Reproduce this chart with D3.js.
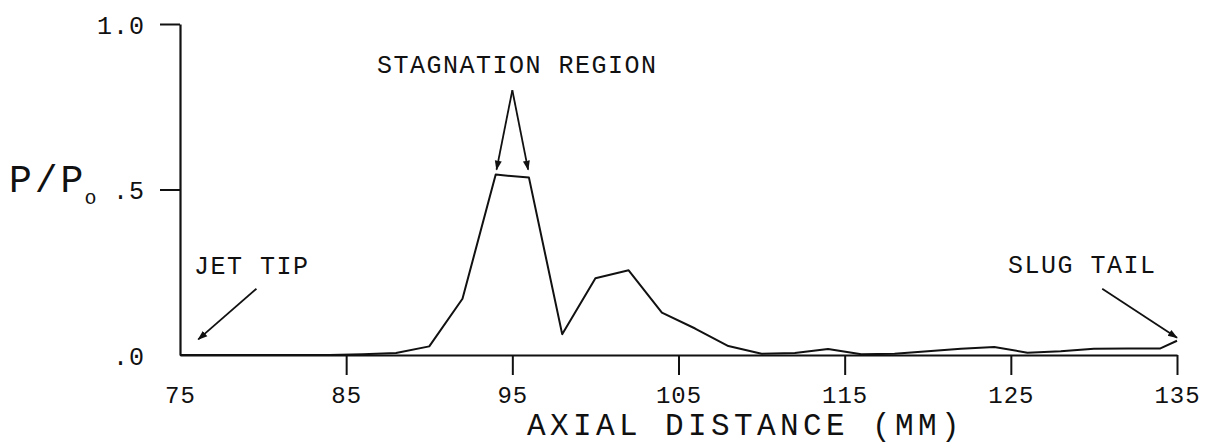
<!DOCTYPE html>
<html>
<head>
<meta charset="utf-8">
<script src="https://cdn.jsdelivr.net/npm/d3@7"></script>
<style>
  html, body { margin: 0; padding: 0; background: #fff; }
  svg { display: block; }
  text { font-family: "Liberation Mono", "DejaVu Sans Mono", monospace; fill: #111; }
</style>
</head>
<body>
<svg id="chart" width="1214" height="445"></svg>
<script>
// Axial distance along the jet (mm)
const axialMM = [75, 78, 80, 82, 84, 86, 88, 90, 92, 94, 96, 98, 100, 102, 104, 106, 108, 110,
                 112, 114, 116, 118, 120, 122, 124, 126, 128, 130, 132, 134, 135];
// Normalised stagnation pressure P/Po at each station
const pressureRatio = [0, 0, 0, 0, 0, 0.002, 0.006, 0.026, 0.17, 0.545, 0.536, 0.063, 0.232, 0.256,
                       0.128, 0.08, 0.027, 0.004, 0.006, 0.018, 0.002, 0.004, 0.011, 0.019, 0.024,
                       0.007, 0.011, 0.019, 0.02, 0.02, 0.043];

const xTickValues = [75, 85, 95, 105, 115, 125, 135];
const xTickLabels = ["75", "85", "95", "105", "115", "125", "135"];
const yTickValues = [0, 0.5, 1.0];
const yTickLabels = [".0", ".5", "1.0"];

// Annotation arrows in data units: [fromX, fromY, toX, toY]
const stagnationArrows = [[95, 0.80, 94.05, 0.56], [95, 0.80, 95.95, 0.56]];
const jetTipArrow = [79.6, 0.2, 76.1, 0.047];
const slugTailArrow = [130.5, 0.2, 135.0, 0.052];

const svg = d3.select("#chart");
const x = d3.scaleLinear().domain([75, 135]).range([180, 1177]);
const y = d3.scaleLinear().domain([0, 1]).range([355, 24]);

svg.append("defs").append("marker")
  .attr("id", "head")
  .attr("viewBox", "0 0 10 10")
  .attr("refX", 9).attr("refY", 5)
  .attr("markerWidth", 10).attr("markerHeight", 10)
  .attr("markerUnits", "userSpaceOnUse")
  .attr("orient", "auto")
  .append("path").attr("d", "M0,1.5 L10,5 L0,8.5 Z").attr("fill", "#111");

// Bottom axis
const xAxis = d3.axisBottom(x)
  .tickValues(xTickValues)
  .tickFormat((d, i) => xTickLabels[i])
  .tickSize(20).tickSizeOuter(0).tickPadding(11);
const gx = svg.append("g").attr("transform", `translate(0,${y(0)})`).call(xAxis);
gx.select(".domain").attr("stroke", "#111").attr("stroke-width", 2.2);
gx.selectAll(".tick line").attr("stroke", "#111").attr("stroke-width", 2)
  .attr("display", d => d === 75 ? "none" : null);
gx.selectAll(".tick text").attr("font-size", 24).attr("letter-spacing", 1).attr("dy", "0.72em");

// Left axis
const yAxis = d3.axisLeft(y)
  .tickValues(yTickValues)
  .tickFormat((d, i) => yTickLabels[i])
  .tickSize(20).tickSizeOuter(0).tickPadding(15);
const gy = svg.append("g").attr("transform", `translate(${x(75)},0)`).call(yAxis);
gy.select(".domain").attr("stroke", "#111").attr("stroke-width", 2.2);
gy.selectAll(".tick line").attr("stroke", "#111").attr("stroke-width", 2)
  .attr("display", d => d === 0 ? "none" : null);
gy.selectAll(".tick text").attr("font-size", 25).attr("letter-spacing", 1).attr("dy", "0.36em");

// Pressure profile
const line = d3.line().x((d, i) => x(axialMM[i])).y(d => y(d)).curve(d3.curveLinear);
svg.append("path")
  .datum(pressureRatio)
  .attr("fill", "none")
  .attr("stroke", "#111")
  .attr("stroke-width", 2)
  .attr("stroke-linejoin", "round")
  .attr("d", line);

// Arrows
function arrow(a) {
  svg.append("line")
    .attr("x1", x(a[0])).attr("y1", y(a[1]))
    .attr("x2", x(a[2])).attr("y2", y(a[3]))
    .attr("stroke", "#111").attr("stroke-width", 1.8)
    .attr("marker-end", "url(#head)");
}
stagnationArrows.forEach(arrow);
arrow(jetTipArrow);
arrow(slugTailArrow);

// Labels
svg.append("text").attr("x", 377).attr("y", 73).attr("font-size", 25).attr("letter-spacing", 1.5)
  .text("STAGNATION REGION");
svg.append("text").attr("x", 194).attr("y", 274).attr("font-size", 25).attr("letter-spacing", 1.5)
  .text("JET TIP");
svg.append("text").attr("x", 1008).attr("y", 273).attr("font-size", 25).attr("letter-spacing", 1.5)
  .text("SLUG TAIL");

const yTitle = svg.append("text").attr("x", 9).attr("y", 192).attr("font-size", 38).attr("letter-spacing", 3);
yTitle.append("tspan").text("P/P");
yTitle.append("tspan").attr("font-size", 20).attr("dy", 12).attr("dx", -2).text("o");

svg.append("text").attr("x", 527).attr("y", 435).attr("font-size", 31).attr("letter-spacing", 4.4)
  .text("AXIAL DISTANCE (MM)");
</script>
</body>
</html>
